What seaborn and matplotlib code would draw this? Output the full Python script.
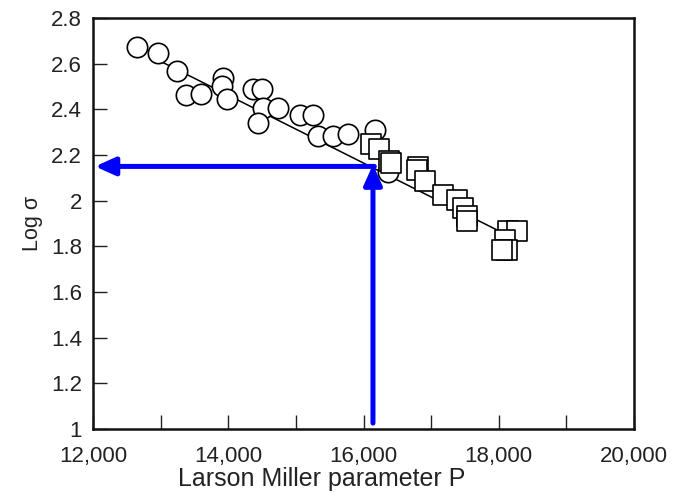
import matplotlib
matplotlib.use("Agg")
import matplotlib.pyplot as plt
import matplotlib.ticker as mticker
import seaborn as sns
import pandas as pd

# ---- data ----
circle_P = [12655, 12966, 13238, 13376, 13590, 13928, 13904, 13978, 14367, 14496,
            14507, 14741, 14441, 15062, 15247, 15321, 15543, 15777, 16172, 16364]
circle_logS = [2.674, 2.645, 2.567, 2.461, 2.469, 2.538, 2.500, 2.447, 2.487, 2.487,
               2.408, 2.408, 2.340, 2.373, 2.373, 2.283, 2.283, 2.293, 2.311, 2.127]

square_P = [16108, 16231, 16379, 16408, 16808, 16797, 16911, 17182, 17380, 17478,
            17528, 17528, 18139, 18272, 18095, 18120, 18046]
square_logS = [2.248, 2.226, 2.175, 2.164, 2.149, 2.136, 2.085, 2.026, 2.004, 1.968,
               1.931, 1.909, 1.865, 1.865, 1.829, 1.785, 1.785]

fit_P = [12900, 18100]
fit_logS = [2.625, 1.853]

read_P = 16140          # vertical arrow position
read_logS = 2.150       # horizontal arrow level
arrow_base_logS = 1.026
arrow_tip_P = 12030

x_ticks = [12000, 14000, 16000, 18000, 20000]
y_ticks = [1.0, 1.2, 1.4, 1.6, 1.8, 2.0, 2.2, 2.4, 2.6, 2.8]

sns.set_theme(style="ticks")
plt.rcParams["font.family"] = ["Liberation Sans", "DejaVu Sans"]

fig = plt.figure(figsize=(6.83, 4.99), dpi=100)
ax = fig.add_axes([93 / 683, 1 - 429 / 499, (634 - 93) / 683, (429 - 18) / 499])

circles = pd.DataFrame({"P": circle_P, "logS": circle_logS})
squares = pd.DataFrame({"P": square_P, "logS": square_logS})
fit = pd.DataFrame({"P": fit_P, "logS": fit_logS})

sns.lineplot(data=fit, x="P", y="logS", ax=ax, color="black", lw=1.1, zorder=2)
sns.scatterplot(data=circles, x="P", y="logS", ax=ax, marker="o", s=215,
                facecolor="white", edgecolor="black", linewidth=1.2, zorder=3)
sns.scatterplot(data=squares, x="P", y="logS", ax=ax, marker="s", s=190,
                facecolor="white", edgecolor="black", linewidth=1.2, zorder=3)

arrow_kw = dict(arrowstyle="-|>,head_length=0.6,head_width=0.27", color="#0000FF",
                lw=3.6, shrinkA=0, shrinkB=0, mutation_scale=20)
ax.annotate("", xy=(read_P, read_logS + 0.008), xytext=(read_P, arrow_base_logS),
            arrowprops=arrow_kw, zorder=5)
ax.annotate("", xy=(arrow_tip_P, read_logS), xytext=(read_P + 20, read_logS),
            arrowprops=arrow_kw, zorder=5)

ax.set_xlim(12000, 20000)
ax.set_ylim(1.0, 2.8)
ax.set_xticks(x_ticks)
ax.xaxis.set_minor_locator(mticker.MultipleLocator(1000))
ax.set_yticks(y_ticks)
ax.xaxis.set_major_formatter(mticker.FuncFormatter(lambda v, p: f"{int(v):,}"))
ax.yaxis.set_major_formatter(mticker.FuncFormatter(lambda v, p: f"{v:g}"))

ax.tick_params(axis="both", which="both", direction="in", length=10, width=1.0,
               color="#222222", labelcolor="#222222", labelsize=16)
ax.tick_params(axis="x", which="both", top=False, pad=12)
ax.tick_params(axis="y", which="both", right=False, pad=8)

for sp in ax.spines.values():
    sp.set_visible(True)
    sp.set_linewidth(1.8)
    sp.set_color("#111111")

ax.set_xlabel("Larson Miller parameter P", fontsize=18, color="#222222")
ax.xaxis.set_label_coords((322 - 93) / 541, -0.092)
ax.set_ylabel("Log σ", fontsize=15.5, color="#222222", labelpad=6)

fig.savefig("out.png", dpi=100)
